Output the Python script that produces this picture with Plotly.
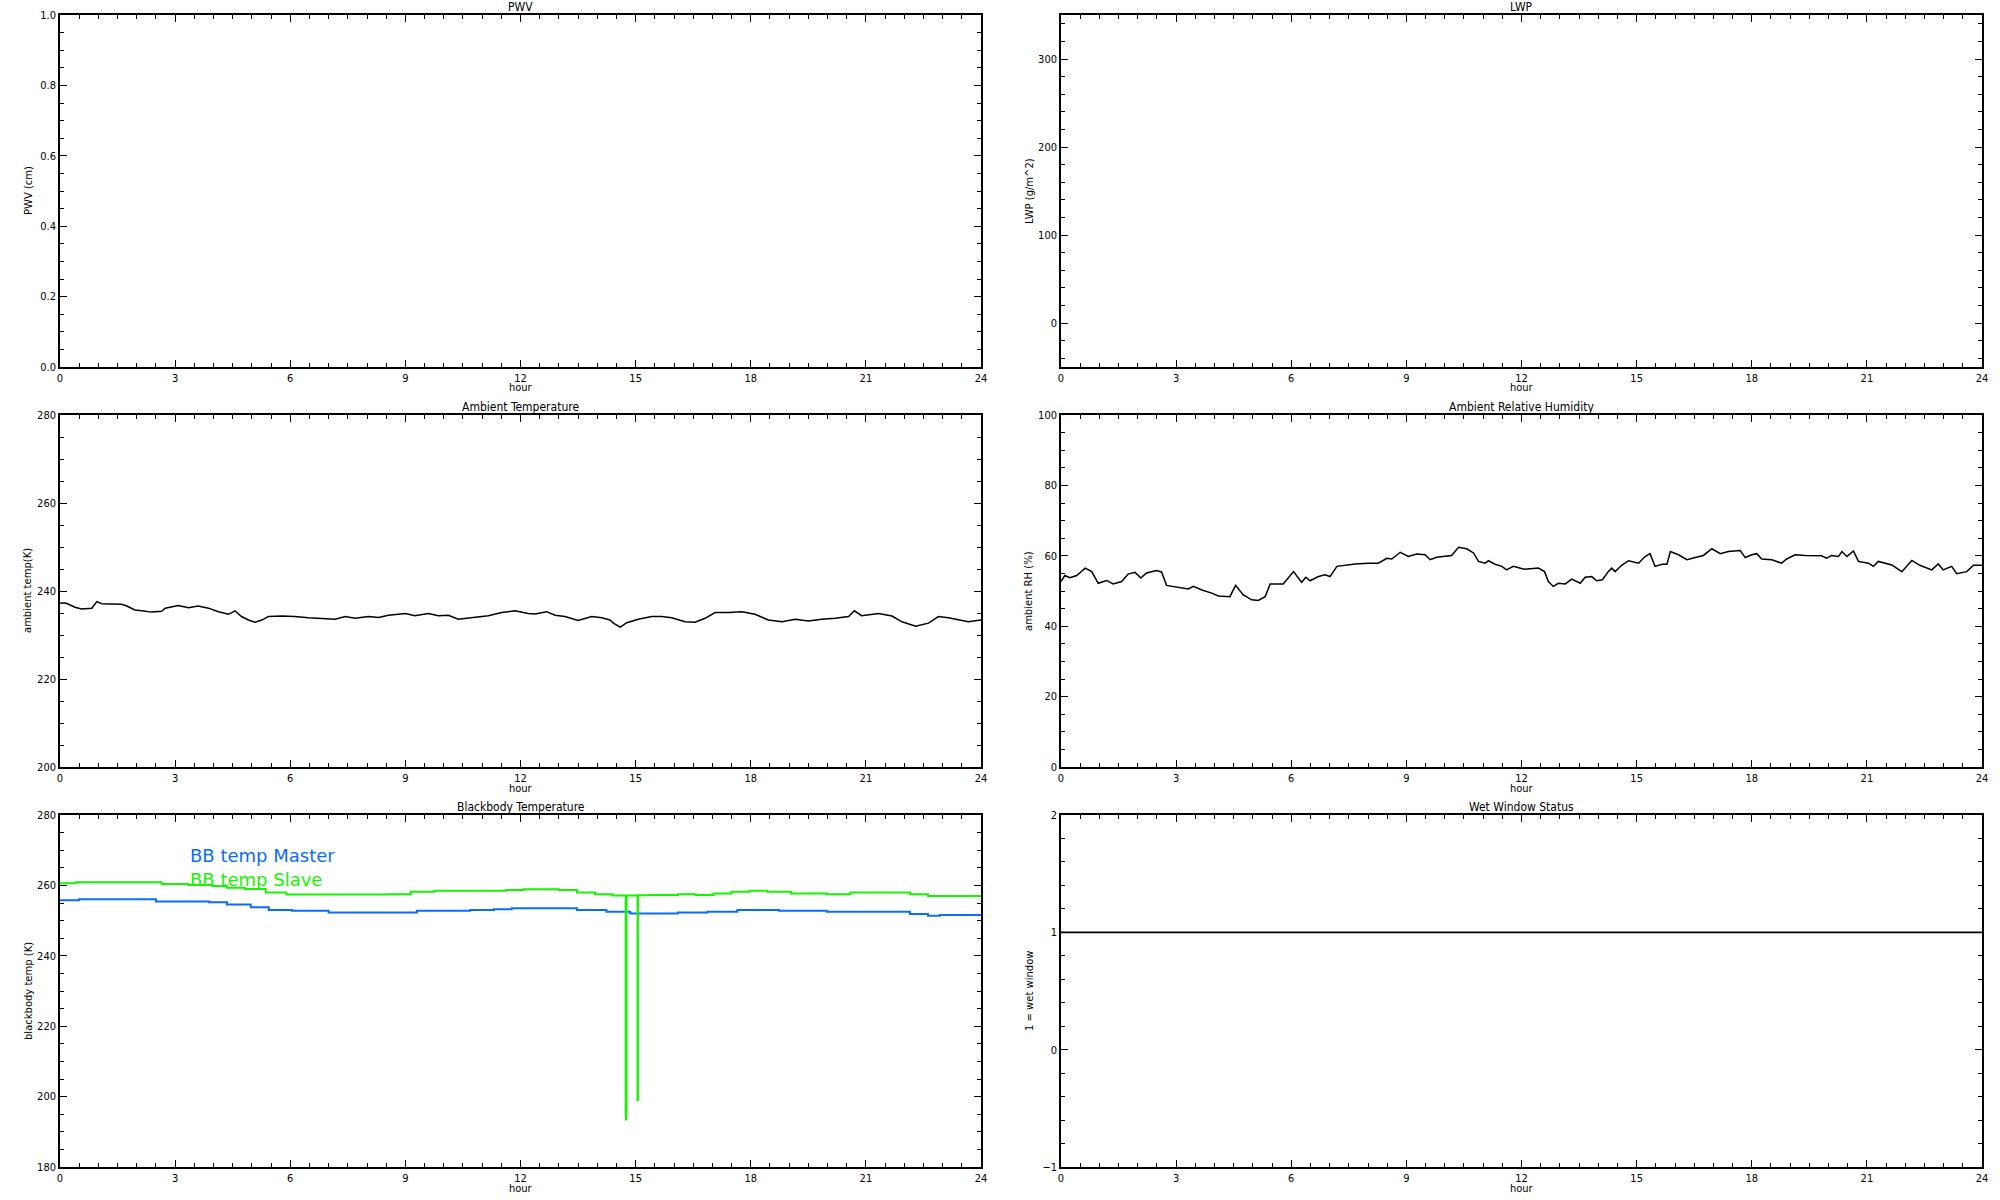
import plotly.graph_objects as go

# ---------------- data ----------------
# PWV and LWP: no data plotted
pwv_hours = []
pwv_vals = []
lwp_hours = []
lwp_vals = []

amb_hours = [0.0, 0.17, 0.39, 0.56, 0.83, 0.96, 1.09, 1.61, 1.74, 1.95, 2.13, 2.39, 2.65, 2.74,
             3.08, 3.35, 3.6, 3.87, 4.13, 4.39, 4.56, 4.73, 4.91, 5.08, 5.26, 5.43, 5.78, 6.12,
             6.47, 6.82, 7.17, 7.43, 7.69, 8.04, 8.30, 8.56, 9.0, 9.25, 9.6, 9.86, 10.12, 10.38,
             10.73, 11.16, 11.51, 11.86, 12.2, 12.38, 12.68, 12.9, 13.16, 13.5, 13.86, 14.12,
             14.33, 14.44, 14.6, 14.77, 15.07, 15.42, 15.68, 15.94, 16.29, 16.55, 16.81, 17.07,
             17.42, 17.77, 18.11, 18.46, 18.81, 19.16, 19.5, 19.85, 20.2, 20.55, 20.7, 20.89,
             21.33, 21.68, 21.94, 22.11, 22.3, 22.63, 22.89, 23.15, 23.41, 23.67, 24.0]
amb_temp = [237.3, 237.2, 236.3, 235.9, 236.1, 237.6, 237.1, 237.0, 236.6, 235.7, 235.5, 235.2,
            235.4, 236.1, 236.7, 236.2, 236.6, 236.1, 235.3, 234.7, 235.5, 234.2, 233.4, 232.9,
            233.4, 234.2, 234.3, 234.2, 233.9, 233.8, 233.6, 234.2, 233.8, 234.2, 234.0, 234.5,
            234.9, 234.4, 234.9, 234.4, 234.5, 233.6, 234.0, 234.4, 235.1, 235.5, 234.9, 234.8,
            235.3, 234.5, 234.2, 233.3, 234.2, 233.9, 233.4, 232.6, 231.8, 232.8, 233.6, 234.2,
            234.2, 233.9, 233.0, 232.9, 233.8, 235.1, 235.1, 235.3, 234.7, 233.4, 233.0, 233.6,
            233.2, 233.6, 233.8, 234.2, 235.5, 234.4, 234.9, 234.3, 233.0, 232.5, 232.0, 232.7,
            234.2, 233.9, 233.4, 233.0, 233.4]

rh_hours = [0.0, 0.10, 0.23, 0.41, 0.63, 0.80, 0.97, 1.19, 1.36, 1.58, 1.75, 1.93, 2.08, 2.23,
            2.49, 2.62, 2.75, 3.06, 3.32, 3.45, 3.67, 3.93, 4.10, 4.40, 4.55, 4.75, 4.97, 5.14,
            5.32, 5.45, 5.79, 5.92, 6.06, 6.27, 6.38, 6.49, 6.71, 6.88, 7.01, 7.19, 7.40, 7.66,
            8.01, 8.27, 8.49, 8.62, 8.84, 9.05, 9.27, 9.49, 9.62, 9.79, 10.18, 10.36, 10.57,
            10.75, 10.88, 11.05, 11.14, 11.31, 11.49, 11.61, 11.79, 12.07, 12.44, 12.60, 12.70,
            12.83, 12.96, 13.14, 13.31, 13.53, 13.66, 13.83, 13.96, 14.11, 14.26, 14.35, 14.44,
            14.61, 14.79, 15.05, 15.22, 15.35, 15.48, 15.66, 15.79, 15.88, 16.09, 16.31, 16.53,
            16.74, 16.96, 17.18, 17.39, 17.70, 17.83, 18.0, 18.13, 18.26, 18.52, 18.78, 18.91,
            19.13, 19.39, 19.82, 19.95, 20.08, 20.26, 20.35, 20.48, 20.65, 20.78, 21.04, 21.17,
            21.30, 21.65, 21.91, 22.17, 22.38, 22.69, 22.86, 22.99, 23.21, 23.34, 23.60, 23.78,
            24.0]
rh_vals = [52.7, 54.4, 53.8, 54.4, 56.5, 55.5, 52.2, 53.0, 52.0, 52.7, 54.8, 55.3, 53.7, 55.1,
           55.8, 55.4, 51.6, 51.1, 50.6, 51.3, 50.3, 49.4, 48.6, 48.4, 51.6, 48.9, 47.5, 47.3,
           48.4, 52.0, 52.0, 53.7, 55.5, 52.5, 53.9, 52.9, 54.1, 54.6, 54.1, 57.0, 57.3, 57.7,
           57.9, 57.9, 59.3, 59.1, 61.0, 59.8, 60.5, 60.3, 58.9, 59.6, 60.1, 62.4, 62.0, 60.8,
           58.4, 57.9, 58.6, 57.6, 57.0, 56.0, 57.0, 56.2, 56.5, 55.5, 52.7, 51.3, 52.2, 52.0,
           53.4, 52.2, 53.9, 54.1, 52.9, 53.2, 55.5, 56.5, 55.5, 57.3, 58.6, 57.9, 59.8, 60.6,
           57.0, 57.6, 57.6, 61.2, 60.3, 58.9, 59.5, 60.1, 62.0, 60.6, 61.2, 61.5, 59.5, 60.3,
           60.6, 59.1, 58.9, 57.9, 59.1, 60.3, 60.1, 60.0, 59.3, 60.1, 59.8, 61.2, 59.8, 61.4,
           58.4, 57.9, 57.0, 58.4, 57.4, 55.5, 58.7, 57.3, 56.0, 57.7, 56.0, 57.0, 54.9, 55.5,
           57.3, 57.3]

bb_master_hours = [0.0, 0.49, 1.96, 2.5, 3.89, 4.35, 4.97, 5.44, 6.05, 7.0, 8.83, 9.3, 10.69,
                   11.31, 11.77, 13.0, 13.47, 14.24, 14.86, 15.33, 16.1, 16.87, 17.65, 18.74,
                   19.98, 20.75, 21.68, 22.15, 22.62, 22.93, 24.0]
bb_master_vals = [255.8, 256.1, 256.1, 255.4, 255.2, 254.6, 253.8, 253.0, 252.8, 252.3, 252.3,
                  252.8, 253.0, 253.2, 253.5, 253.5, 253.0, 252.5, 252.0, 252.0, 252.3, 252.5,
                  253.0, 252.8, 252.5, 252.5, 252.5, 251.9, 251.4, 251.6, 251.6]

bb_slave_hours = [0.0, 0.41, 2.19, 2.65, 3.35, 3.97, 4.35, 4.82, 5.36, 5.9, 7.0, 8.52, 9.14,
                  9.76, 10.69, 11.62, 12.08, 13.0, 13.47, 13.94, 14.40, 14.73, 14.74, 14.75,
                  14.76, 14.86, 15.04, 15.05, 15.06, 15.33, 16.1, 16.57, 17.03, 17.5, 17.96,
                  18.43, 19.05, 19.98, 20.6, 21.53, 22.15, 22.62, 23.4, 24.0]
bb_slave_vals = [260.6, 260.9, 260.9, 260.4, 260.1, 259.8, 259.3, 259.0, 258.0, 257.4, 257.4,
                 257.5, 258.2, 258.5, 258.5, 258.7, 258.9, 258.7, 258.0, 257.5, 257.1, 257.1,
                 195.0, 193.5, 257.1, 257.1, 257.2, 199.0, 257.2, 257.3, 257.5, 257.3, 257.7,
                 258.2, 258.5, 258.2, 257.7, 257.5, 258.0, 258.0, 257.5, 257.0, 257.0, 257.3]

wet_hours = [0, 24]
wet_vals = [1, 1]

titles = ["PWV", "LWP", "Ambient Temperature", "Ambient Relative Humidity",
          "Blackbody Temperature", "Wet Window Status"]
ytitles = ["PWV (cm)", "LWP (g/m^2)", "ambient temp(K)", "ambient RH (%)",
           "blackbody temp (K)", "1 = wet window"]
x_ticks = [0, 3, 6, 9, 12, 15, 18, 21, 24]

# ---------------- layout ----------------
W, H = 2000, 1200
col_x = [(60, 981), (1061, 1982)]          # pixel coordinates
row_y = [(15, 367), (415, 767), (815, 1167)]


def px(x):
    return x / W


def py(y):
    return 1 - y / H


FAM = "Liberation Sans Narrow, DejaVu Sans Condensed, Liberation Sans, sans-serif"
TICKFONT = dict(family=FAM, size=11, color="black")
TITLEFONT = dict(family=FAM, size=12, color="black")
YTFONT = dict(family="DejaVu Sans, sans-serif", size=10, color="black")

yspecs = [
    dict(range=[0, 1], dtick=0.2, minor=0.05, fmt=".1f"),
    dict(range=[-50, 350], dtick=100, minor=20, fmt="d"),
    dict(range=[200, 280], dtick=20, minor=5, fmt="d"),
    dict(range=[0, 100], dtick=20, minor=5, fmt="d"),
    dict(range=[180, 280], dtick=20, minor=5, fmt="d"),
    dict(range=[-1, 2], dtick=1, minor=0.2, fmt="d"),
]

fig = go.Figure()
layout = dict(width=W, height=H, margin=dict(l=0, r=0, t=0, b=0, pad=0, autoexpand=False),
              paper_bgcolor="white", plot_bgcolor="white", showlegend=False)
annotations = []

for i in range(6):
    r, c = divmod(i, 2)
    x0, x1 = col_x[c]
    y0, y1 = row_y[r]
    n = "" if i == 0 else str(i + 1)
    dom_x = [px(x0), px(x1)]
    dom_y = [py(y1), py(y0)]
    common = dict(showline=True, linecolor="black", linewidth=1.6, mirror="allticks",
                  ticks="inside", ticklen=7, tickwidth=1.2, tickcolor="black",
                  showgrid=False, zeroline=False, tickfont=TICKFONT, fixedrange=True,
                  automargin=False)
    layout["xaxis" + n] = dict(common, domain=dom_x, anchor="y" + n, range=[0, 24],
                               tickmode="array", tickvals=x_ticks,
                               ticktext=[str(t) for t in x_ticks],
                               minor=dict(dtick=0.5, tick0=0, ticks="inside", ticklen=4,
                                          tickwidth=1.2, tickcolor="black", showgrid=False))
    s = yspecs[i]
    layout["yaxis" + n] = dict(common, domain=dom_y, anchor="x" + n, range=s["range"],
                               tick0=0, dtick=s["dtick"], tickformat=s["fmt"],
                               minor=dict(dtick=s["minor"], tick0=0, ticks="inside", ticklen=4,
                                          tickwidth=1.2, tickcolor="black", showgrid=False))
    xc = px((x0 + x1) / 2)
    annotations.append(dict(text=titles[i], x=xc, y=py(y0 - 8), xref="paper", yref="paper",
                            showarrow=False, font=TITLEFONT, xanchor="center", yanchor="middle",
                            borderpad=0))
    annotations.append(dict(text="hour", x=xc, y=py(y1 + 21),
                            xref="paper", yref="paper", showarrow=False, font=TICKFONT,
                            xanchor="center", yanchor="middle", borderpad=0))
    annotations.append(dict(text=ytitles[i], x=px(x0 - 32), y=py((y0 + y1) / 2),
                            xref="paper", yref="paper", showarrow=False, font=YTFONT,
                            textangle=-90, xanchor="center", yanchor="middle", borderpad=0))

# traces
fig.add_trace(go.Scatter(x=pwv_hours, y=pwv_vals, mode="lines", line=dict(color="black"),
                         xaxis="x", yaxis="y"))
fig.add_trace(go.Scatter(x=lwp_hours, y=lwp_vals, mode="lines", line=dict(color="black"),
                         xaxis="x2", yaxis="y2"))
fig.add_trace(go.Scatter(x=amb_hours, y=amb_temp, mode="lines",
                         line=dict(color="black", width=1.5), xaxis="x3", yaxis="y3"))
fig.add_trace(go.Scatter(x=rh_hours, y=rh_vals, mode="lines",
                         line=dict(color="black", width=1.5), xaxis="x4", yaxis="y4"))
fig.add_trace(go.Scatter(x=bb_master_hours, y=bb_master_vals, mode="lines",
                         line=dict(color="#0a6cff", width=2, shape="hv"), xaxis="x5", yaxis="y5"))
fig.add_trace(go.Scatter(x=bb_slave_hours, y=bb_slave_vals, mode="lines",
                         line=dict(color="#16f500", width=2, shape="hv"), xaxis="x5", yaxis="y5"))
fig.add_trace(go.Scatter(x=wet_hours, y=wet_vals, mode="lines",
                         line=dict(color="black", width=1.6), xaxis="x6", yaxis="y6"))

# in-plot legend labels (IDL xyouts style)
LEGFONT = dict(family="DejaVu Sans, sans-serif", size=18)
annotations.append(dict(text="BB temp Master", x=3.35, y=268.5, xref="x5", yref="y5",
                        showarrow=False, xanchor="left", yanchor="middle", borderpad=0,
                        font=dict(LEGFONT, color="#0a6cff")))
annotations.append(dict(text="BB temp Slave", x=3.35, y=261.7, xref="x5", yref="y5",
                        showarrow=False, xanchor="left", yanchor="middle", borderpad=0,
                        font=dict(LEGFONT, color="#16f500")))

layout["annotations"] = annotations
fig.update_layout(**layout)
# remove the default page margin so the 2000x1200 figure fills the window exactly
fig.write_html("out.html", config={"displayModeBar": False},
               post_script="document.body.style.margin='0';document.body.style.overflow='hidden';")
